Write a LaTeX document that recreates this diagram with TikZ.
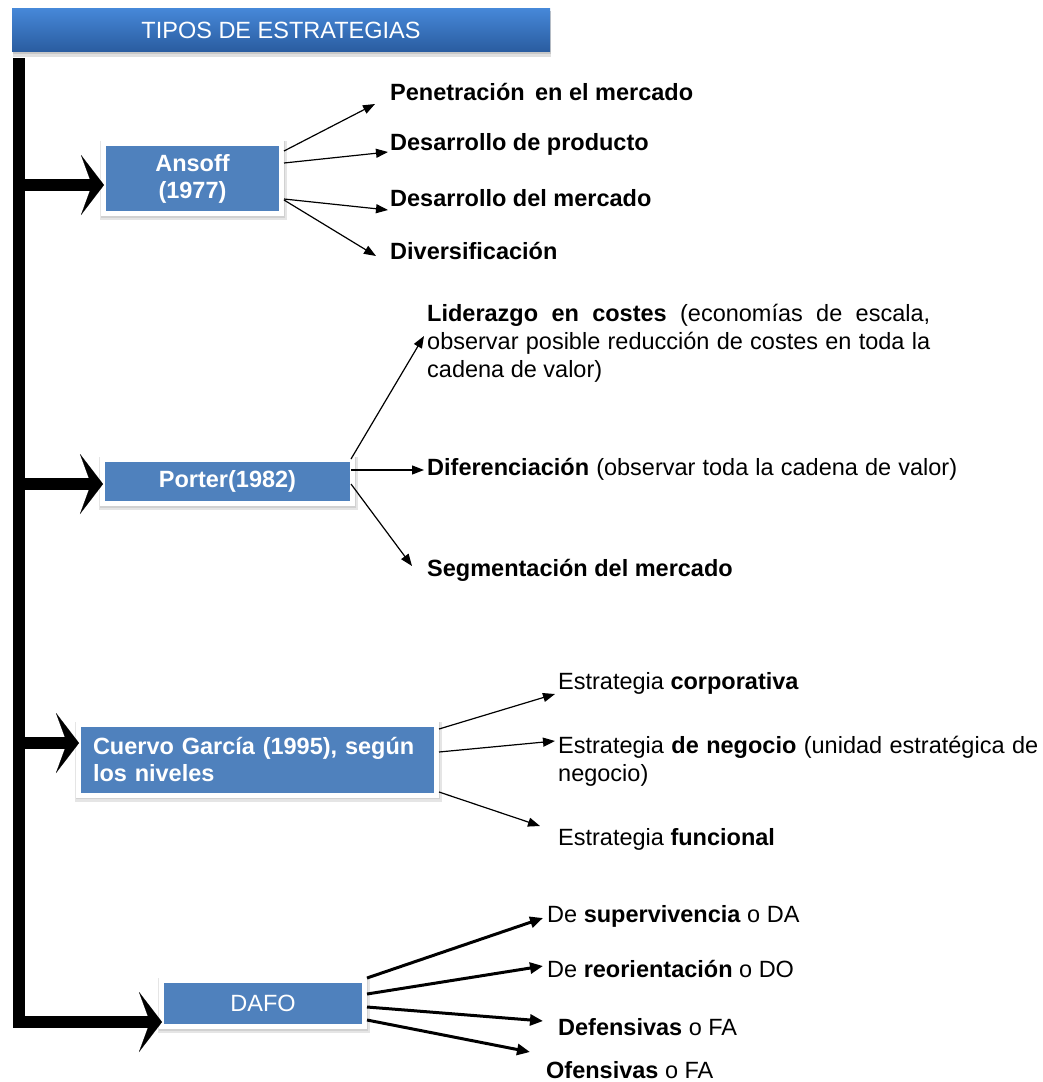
\documentclass[tikz,border=0pt]{standalone}
\usepackage{fontspec}
\setmainfont{Liberation Sans}
\usetikzlibrary{arrows.meta,shadows,calc}
\definecolor{boxblue}{RGB}{79,129,189}
\definecolor{titletop}{RGB}{70,136,216}
\definecolor{titlebot}{RGB}{42,92,160}
\begin{document}
\begin{tikzpicture}[x=1pt,y=-1pt,
  every node/.style={font=\fontsize{23.5}{28}\selectfont},
  bluebox/.style={draw=white, line width=5pt, fill=boxblue, text=white,
    font=\fontsize{23.5}{27}\selectfont\bfseries, inner sep=0pt, align=center,
    preaction={draw=black!10, line width=9pt, transform canvas={shift={(1.2pt,-2pt)}}},
    preaction={draw=black!18, line width=6.6pt, transform canvas={shift={(0.6pt,-1pt)}}}},
  titlebar/.style={top color=titletop, bottom color=titlebot, text=white,
    inner sep=0pt, font=\fontsize{23.5}{28}\selectfont,
    preaction={fill=black!12, transform canvas={shift={(1pt,-5pt)}}},
    preaction={fill=black!22, transform canvas={shift={(0.5pt,-2.5pt)}}}},
  lbl/.style={anchor=west, inner sep=0pt, align=left, yshift=-2.5pt},
  trunkarrow/.style={line width=12pt, shorten >=-3pt,
    -{Stealth[length=23pt,width=60pt,inset=11pt,line width=0.1pt]}},
  thinarrow/.style={line width=1.2pt, -{Triangle[length=12pt,width=9pt]}},
  dafoarrow/.style={line width=3pt, -{Triangle[length=13pt,width=11pt]}},
]
\useasboundingbox (0,0) rectangle (1042,1082);

% title
\node[titlebar, minimum width=538pt, minimum height=43pt] (title) at (281,30) {TIPOS DE ESTRATEGIAS};

% boxes
\node[bluebox, minimum width=178pt, minimum height=70pt] (ansoff) at (192.5,178.5) {\raisebox{-2pt}{Ansoff}\\\raisebox{-2pt}{(1977)}};
\node[bluebox, minimum width=250pt, minimum height=44pt] (porter) at (227.5,481.5) {\raisebox{-2pt}{Porter(1982)}};
\node[bluebox, minimum width=358pt, minimum height=71pt, text width=329pt, align=left] (cuervo) at (257.5,759.5) {Cuervo García (1995), según\\los niveles};
\node[bluebox, minimum width=203pt, minimum height=46pt, font=\fontsize{23.5}{28}\selectfont] (dafo) at (263,1003.5) {DAFO};

% trunk
\coordinate (trunktop) at (19,58);
\coordinate (tA) at (19,185);
\coordinate (tP) at (19,484);
\coordinate (tC) at (19,743);
\coordinate (tD) at (19,1022);
\draw[trunkarrow] (trunktop) -- (tD) -- (tD -| dafo.west);
\draw[trunkarrow] (tA) -- (tA -| ansoff.west);
\draw[trunkarrow] (tP) -- (tP -| porter.west);
\draw[trunkarrow] (tC) -- (tC -| cuervo.west);

% Ansoff labels
\node[lbl] (p1) at (390,89) {\textbf{Penetración\, en el mercado}};
\node[lbl] (p2) at (390,142) {\textbf{Desarrollo de producto}};
\node[lbl] (p3) at (390,196) {\textbf{Desarrollo del mercado}};
\node[lbl] (p4) at (390,248) {\textbf{Diversificación}};
\draw[thinarrow] ($(ansoff.east)+(0,-27.5)$) -- ([shift={(-15,12.5)}]p1.west);
\draw[thinarrow] ($(ansoff.east)+(0,-15.5)$) -- ([shift={(-2,7.5)}]p2.west);
\draw[thinarrow] ($(ansoff.east)+(0,20.5)$) -- ([shift={(-2,11.5)}]p3.west);
\draw[thinarrow] ($(ansoff.east)+(0,21.5)$) -- ([shift={(-14,5.5)}]p4.west);

% Porter labels
\node[lbl] (lid) at (427,341) {\makebox[503pt][s]{\textbf{Liderazgo en costes} (economías de escala,}\\\makebox[503pt][s]{observar posible reducción de costes en toda la}\\cadena de valor)};
\node[lbl] (dif) at (427,467) {\makebox[530pt][s]{\textbf{Diferenciación} (observar toda la cadena de valor)}};
\node[lbl] (seg) at (427,568) {\textbf{Segmentación del mercado}};
\draw[thinarrow] ($(porter.east)+(-4,-22.5)$) -- ([shift={(-3,-7.5)}]lid.west);
\draw[thinarrow] ($(porter.east)+(-4,-11.5)$) -- ([shift={(-3,0.5)}]dif.west);
\draw[thinarrow] ($(porter.east)+(-4,2.5)$) -- ([shift={(-15,-4.5)}]seg.west);

% Cuervo labels
\node[lbl] (corp) at (558,681) {Estrategia \textbf{corporativa}};
\node[lbl] (neg) at (558,759) {\makebox[480pt][s]{Estrategia \textbf{de negocio} (unidad estratégica de}\\negocio)};
\node[lbl] (fun) at (558,837) {Estrategia \textbf{funcional}};
\draw[thinarrow] ($(cuervo.east)+(0,-30.5)$) -- ([shift={(-3,10.5)}]corp.west);
\draw[thinarrow] ($(cuervo.east)+(0,-7.5)$) -- ([shift={(-3,-20.5)}]neg.west);
\draw[thinarrow] ($(cuervo.east)+(0,32.5)$) -- ([shift={(-18,-13.5)}]fun.west);

% DAFO labels
\node[lbl] (sup) at (547,914) {De \textbf{supervivencia} o DA};
\node[lbl] (reo) at (547,966) {De \textbf{reorientación} o DO};
\node[lbl] (def) at (558,1025) {\textbf{Defensivas} o FA};
\node[lbl] (ofe) at (546,1067.5) {\textbf{Ofensivas} o FA};
\draw[dafoarrow] ($(dafo.east)+(0,-25.5)$) -- ([shift={(-4,1.5)}]sup.west);
\draw[dafoarrow] ($(dafo.east)+(0,-9.5)$) -- ([shift={(-4,-2.5)}]reo.west);
\draw[dafoarrow] ($(dafo.east)+(0,3.5)$) -- ([shift={(-15,-6.5)}]def.west);
\draw[dafoarrow] ($(dafo.east)+(0,16.5)$) -- ([shift={(-16,-18)}]ofe.west);
\end{tikzpicture}
\end{document}
